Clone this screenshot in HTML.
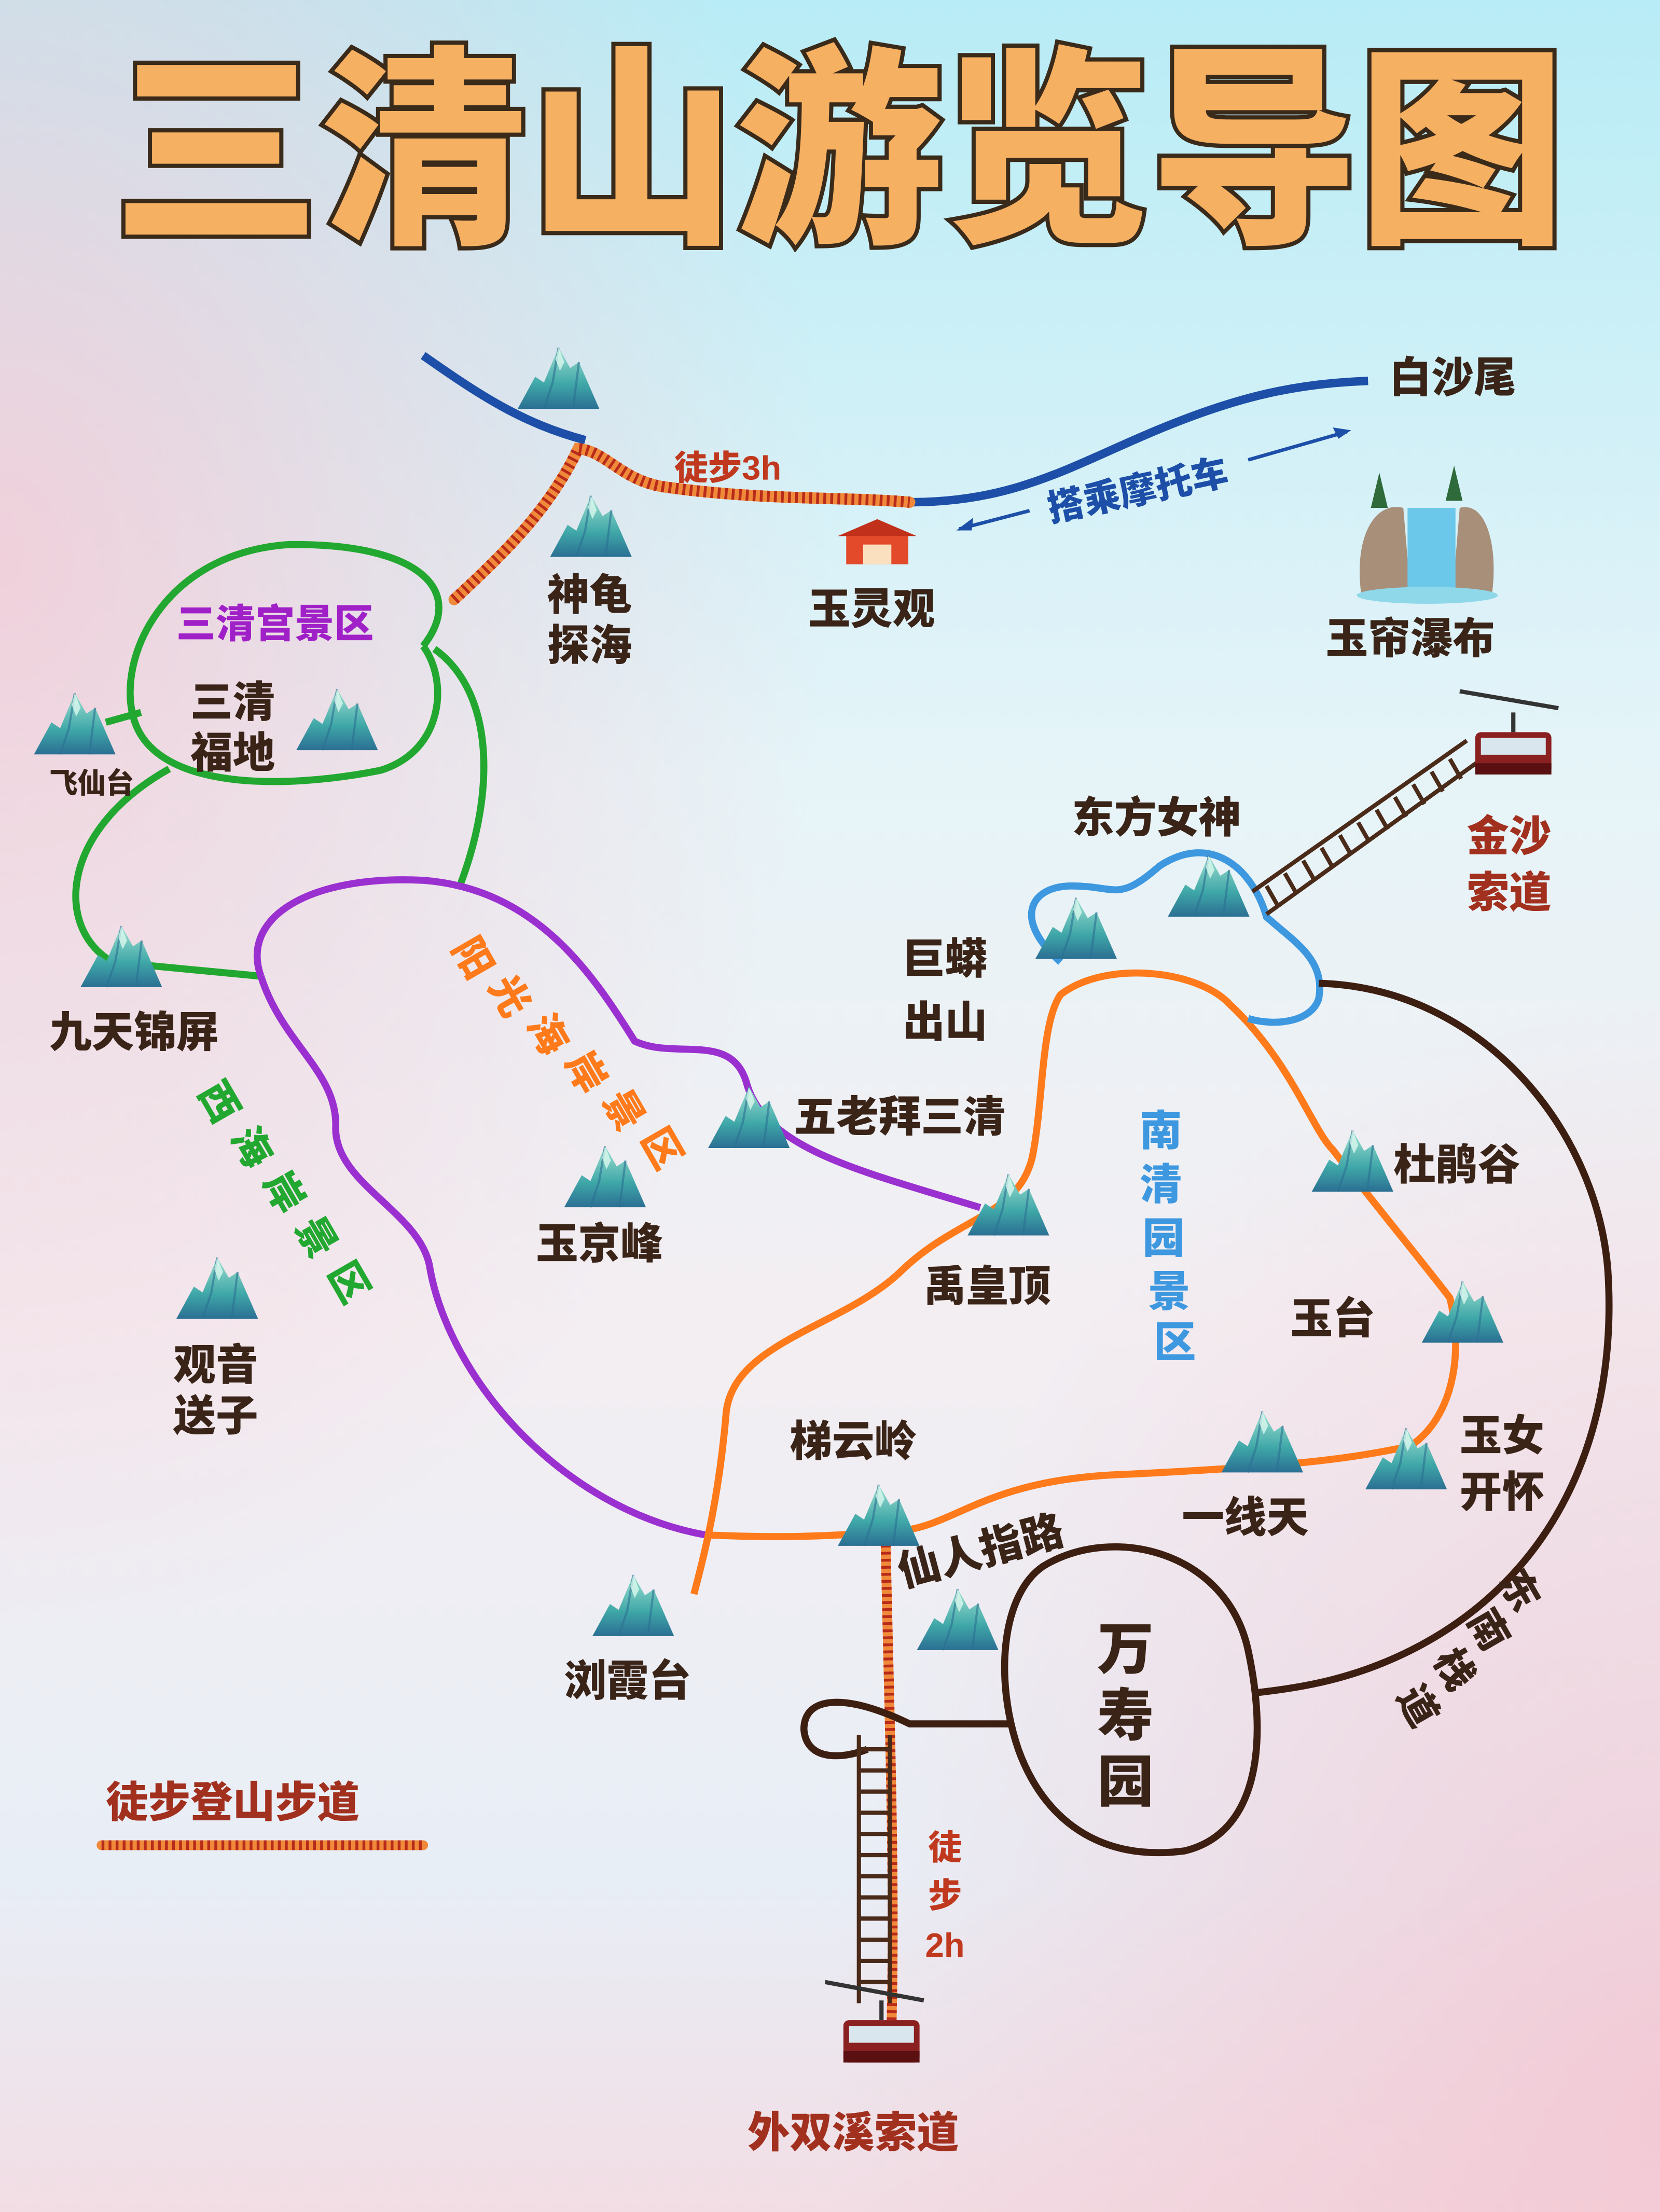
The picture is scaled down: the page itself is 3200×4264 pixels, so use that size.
<!DOCTYPE html>
<html><head><meta charset="utf-8"><style>
html,body{margin:0;padding:0;}
svg{display:block}
text{font-family:"Liberation Sans","Noto Sans CJK SC",sans-serif;font-weight:900;}
</style></head><body>
<svg width="3200" height="4264" viewBox="0 0 1177 1568" preserveAspectRatio="none" xmlns="http://www.w3.org/2000/svg">
<defs>
<linearGradient id="bg" x1="0" y1="0" x2="0" y2="1">
<stop offset="0" stop-color="#b8ecf6"/><stop offset="0.35" stop-color="#e6f4f8"/><stop offset="0.6" stop-color="#f3eef2"/><stop offset="0.85" stop-color="#e8eef6"/><stop offset="1" stop-color="#f2dde4"/></linearGradient>
<radialGradient id="pk" cx="0" cy="0.25" r="0.5"><stop offset="0" stop-color="#f5c8d4" stop-opacity="0.8"/><stop offset="1" stop-color="#f5c8d4" stop-opacity="0"/></radialGradient>
<radialGradient id="pk2" cx="1" cy="0.95" r="0.5"><stop offset="0" stop-color="#f3c4d0" stop-opacity="0.8"/><stop offset="1" stop-color="#f3c4d0" stop-opacity="0"/></radialGradient>
<linearGradient id="mg" x1="0" y1="0" x2="0" y2="1"><stop offset="0" stop-color="#9fe0d0"/><stop offset="0.6" stop-color="#3fa7a8"/><stop offset="1" stop-color="#2b6f93"/></linearGradient>
<symbol id="m" viewBox="0 0 60 50">
<path d="M2 48 L14 26 L20 30 L30 6 L38 20 L44 16 L58 48 Z" fill="url(#mg)"/>
<path d="M30 6 L26 30 L20 48 M44 16 L42 32 L40 48" stroke="#2b6f93" stroke-width="1.5" fill="none" opacity="0.6"/>
<path d="M30 6 L34 16 L31 22 L28 14 Z" fill="#e8fff5" opacity="0.7"/>
</symbol>
<symbol id="car" viewBox="0 0 70 50">
<rect x="8" y="14" width="54" height="30" rx="4" fill="#8a2020"/>
<rect x="12" y="18" width="46" height="12" fill="#d9e6ee"/>
<rect x="8" y="36" width="54" height="8" fill="#5a1010"/>
<line x1="35" y1="0" x2="35" y2="14" stroke="#333" stroke-width="3"/>
</symbol>
</defs>
<rect width="1177" height="1568" fill="url(#bg)"/>
<rect width="1177" height="1568" fill="url(#pk)"/>
<rect width="1177" height="1568" fill="url(#pk2)"/>

<text x="595" y="160" font-size="150" text-anchor="middle" fill="#f6b062" stroke="#3a2a1a" stroke-width="6" paint-order="stroke" textLength="1030" lengthAdjust="spacingAndGlyphs">三清山游览导图</text>

<path d="M300 252 C340 280 370 300 415 312" stroke="#1d4fa8" stroke-width="6" fill="none"/>
<path d="M645 356 C720 356 760 330 820 305 C880 280 920 272 970 270" stroke="#1d4fa8" stroke-width="6" fill="none"/>
<g fill="none" stroke-linecap="round">
<path d="M322 425 C360 390 390 360 410 318 C430 320 440 340 470 345 C540 355 600 352 645 356" stroke="#f08a3a" stroke-width="8"/>
<path d="M322 425 C360 390 390 360 410 318 C430 320 440 340 470 345 C540 355 600 352 645 356" stroke="#b82a1a" stroke-width="8" stroke-dasharray="2 3" stroke-linecap="butt"/>
<path d="M628 1095 C630 1200 635 1330 632 1440" stroke="#f08a3a" stroke-width="7"/>
<path d="M628 1095 C630 1200 635 1330 632 1440" stroke="#b82a1a" stroke-width="7" stroke-dasharray="2 3" stroke-linecap="butt"/>
<path d="M72 1308 L300 1308" stroke="#f08a3a" stroke-width="7"/>
<path d="M72 1308 L300 1308" stroke="#b82a1a" stroke-width="7" stroke-dasharray="2 3" stroke-linecap="butt"/>
</g>
<path d="M680 375 L730 362 M885 326 L955 306" stroke="#1d4fa8" stroke-width="2.5" fill="none"/>
<path d="M678 376 l12 -9 l-1 9 Z M958 305 l-13 -2 l4 8 Z" fill="#1d4fa8"/>

<g fill="none" stroke="#22a830" stroke-width="5">
<path d="M300 458 C330 420 300 385 205 386 C115 392 82 468 95 510 C110 560 200 560 270 546 C315 532 318 482 300 458"/>
<path d="M308 460 C350 490 352 560 326 628"/>
<path d="M120 545 C40 590 40 660 80 682 L185 692"/>
<path d="M75 512 L100 505"/>
</g>
<path d="M185 692 C170 650 220 620 300 624 C380 630 420 690 450 738 C480 752 520 730 530 770 C545 815 610 830 695 856 M185 692 C200 740 240 760 238 800 C238 840 300 860 305 900 C320 980 400 1070 500 1088" fill="none" stroke="#9b30d0" stroke-width="5"/>
<path d="M492 1130 C500 1100 510 1060 515 1000 C522 950 600 940 640 900 C680 862 722 862 732 820 C740 780 738 725 752 705 C785 680 850 688 872 712 C915 752 930 800 945 815 C978 858 1005 890 1028 920 C1038 960 1030 1005 1000 1025 C950 1036 900 1040 800 1045 C700 1048 680 1080 640 1085 C580 1090 545 1090 500 1088" fill="none" stroke="#ff7a1a" stroke-width="5"/>
<path d="M752 682 C718 652 730 628 760 628 C792 628 792 640 822 614 C858 590 888 615 898 650 C918 668 940 680 935 708 C930 724 905 728 885 722" fill="none" stroke="#3d98e0" stroke-width="5"/>
<g fill="none" stroke="#3d1f12" stroke-width="5">
<path d="M935 697 C1050 700 1132 800 1140 900 C1148 1020 1100 1120 1000 1170 C960 1190 925 1196 890 1200"/>
<path d="M740 1110 C790 1080 870 1100 885 1170 C900 1240 890 1300 840 1312 C780 1320 740 1290 722 1240 C705 1190 710 1130 740 1110 Z"/>
<path d="M715 1222 L645 1222 C600 1200 570 1202 570 1226 C572 1250 600 1246 615 1240"/>
</g>
<g stroke="#4a2a18" stroke-width="3" fill="none">
<path d="M609 1230 L609 1420 M631 1230 L631 1420"/>
<path d="M609 1240H631M609 1255H631M609 1270H631M609 1285H631M609 1300H631M609 1315H631M609 1330H631M609 1345H631M609 1360H631M609 1375H631M609 1390H631M609 1405H631"/>
<path d="M888 632 L1040 525 M898 648 L1048 540"/>
<path d="M898 628l8 14M911 619l8 14M924 610l8 14M937 601l8 14M950 592l8 14M963 583l8 14M976 574l8 14M989 565l8 14M1002 556l8 14M1015 547l8 14M1028 538l8 14"/>
</g>
<path d="M1035 490 L1105 502 M585 1405 L655 1418" stroke="#333" stroke-width="3"/>
<use href="#car" x="1038" y="505" width="70" height="50"/>
<use href="#car" x="590" y="1418" width="70" height="50"/>
<g><rect x="600" y="378" width="44" height="22" fill="#e24a2a"/><path d="M594 380 L622 368 L650 380 Z" fill="#c0301a"/><rect x="612" y="386" width="20" height="14" fill="#fbe0c0"/></g>
<g><path d="M965 420 C960 380 975 355 995 360 L1000 420 Z" fill="#a88f7a"/><path d="M1030 420 L1035 360 C1055 355 1062 390 1058 420 Z" fill="#a88f7a"/><rect x="998" y="360" width="34" height="62" fill="#6cc8ea"/><ellipse cx="1012" cy="422" rx="50" ry="6" fill="#8fd8ea"/><path d="M972 360 l6 -25 l6 25Z M1025 355 l6 -25 l6 25Z" fill="#2f6a3a"/></g>

<g>
<use href="#m" x="365" y="240" width="62" height="52"/>
<use href="#m" x="388" y="345" width="62" height="52"/>
<use href="#m" x="22" y="485" width="62" height="52"/>
<use href="#m" x="208" y="482" width="62" height="52"/>
<use href="#m" x="55" y="650" width="62" height="52"/>
<use href="#m" x="123" y="885" width="62" height="52"/>
<use href="#m" x="398" y="806" width="62" height="52"/>
<use href="#m" x="500" y="764" width="62" height="52"/>
<use href="#m" x="684" y="826" width="62" height="52"/>
<use href="#m" x="732" y="630" width="62" height="52"/>
<use href="#m" x="826" y="600" width="62" height="52"/>
<use href="#m" x="928" y="795" width="62" height="52"/>
<use href="#m" x="1006" y="902" width="62" height="52"/>
<use href="#m" x="966" y="1006" width="62" height="52"/>
<use href="#m" x="864" y="994" width="62" height="52"/>
<use href="#m" x="592" y="1046" width="62" height="52"/>
<use href="#m" x="648" y="1120" width="62" height="52"/>
<use href="#m" x="418" y="1110" width="62" height="52"/>
</g>

<g fill="#3a2418" font-size="30">
<text x="985" y="278">白沙尾</text>
<text x="573" y="442">玉灵观</text>
<text x="940" y="463">玉帘瀑布</text>
<text x="388" y="432">神龟</text><text x="388" y="468">探海</text>
<text x="135" y="508">三清</text><text x="135" y="544">福地</text>
<text x="35" y="562" font-size="20">飞仙台</text>
<text x="760" y="590">东方女神</text>
<text x="640" y="690">巨蟒</text><text x="640" y="735">出山</text>
<text x="35" y="742">九天锦屏</text>
<text x="563" y="802">五老拜三清</text>
<text x="988" y="836">杜鹃谷</text>
<text x="380" y="892">玉京峰</text>
<text x="655" y="922">禹皇顶</text>
<text x="915" y="945">玉台</text>
<text x="123" y="978">观音</text><text x="123" y="1014">送子</text>
<text x="560" y="1032">梯云岭</text>
<text x="1035" y="1028">玉女</text><text x="1035" y="1068">开怀</text>
<text x="838" y="1086">一线天</text>
<text x="400" y="1202">浏霞台</text>
<text x="640" y="1125" transform="rotate(-15 640 1125)">仙人指路</text>
<text x="778" y="1183" font-size="40">万</text><text x="778" y="1230" font-size="40">寿</text><text x="778" y="1277" font-size="40">园</text>
<text x="1062" y="1120" transform="rotate(60 1062 1120)" font-size="28">东</text>
<text x="1040" y="1148" transform="rotate(60 1040 1148)" font-size="28">南</text>
<text x="1016" y="1176" transform="rotate(60 1016 1176)" font-size="28">栈</text>
<text x="990" y="1202" transform="rotate(60 990 1202)" font-size="28">道</text>
</g>
<g fill="#a2301e" font-size="30">
<text x="1040" y="603">金沙</text><text x="1040" y="643">索道</text>
<text x="75" y="1288">徒步登山步道</text>
<text x="530" y="1522">外双溪索道</text>
</g>
<g fill="#c0391e" font-size="24" font-weight="700">
<text x="478" y="340">徒步3h</text>
<text x="658" y="1318">徒</text><text x="658" y="1352">步</text><text x="656" y="1387">2h</text>
</g>
<text x="745" y="370" transform="rotate(-12 745 370)" fill="#1d4fa8" font-size="26">搭乘摩托车</text>
<text x="125" y="452" fill="#a020c8" font-size="28">三清宫景区</text>
<g fill="#ff7a1a" font-size="28">
<text x="322" y="688" transform="rotate(60 335 678)">阳</text>
<text x="348" y="715" transform="rotate(60 361 705)">光</text>
<text x="375" y="742" transform="rotate(60 388 732)">海</text>
<text x="402" y="769" transform="rotate(60 415 759)">岸</text>
<text x="429" y="796" transform="rotate(60 442 786)">景</text>
<text x="456" y="823" transform="rotate(60 469 813)">区</text>
</g>
<g fill="#22a830" font-size="28">
<text x="142" y="790" transform="rotate(60 155 780)">西</text>
<text x="165" y="822" transform="rotate(60 178 812)">海</text>
<text x="188" y="854" transform="rotate(60 201 844)">岸</text>
<text x="211" y="886" transform="rotate(60 224 876)">景</text>
<text x="234" y="918" transform="rotate(60 247 908)">区</text>
</g>
<g fill="#3d98e0" font-size="30">
<text x="808" y="812">南</text><text x="808" y="850">清</text><text x="810" y="888">园</text><text x="814" y="926">景</text><text x="818" y="962">区</text>
</g>
</svg>
</body></html>
